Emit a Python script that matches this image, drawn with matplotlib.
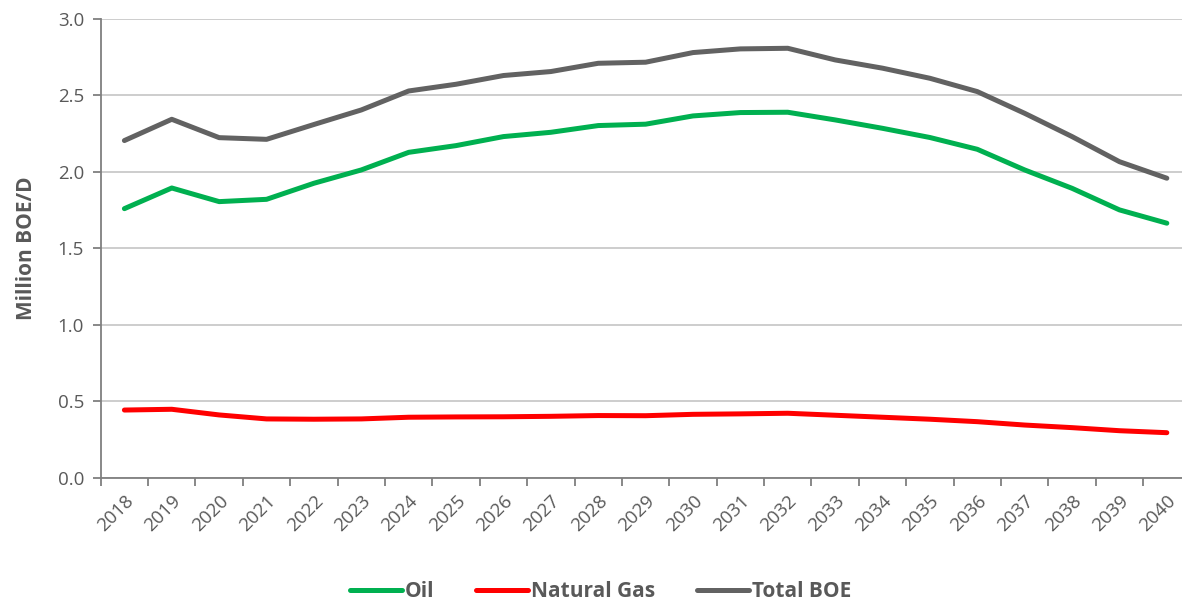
import numpy as np
import matplotlib.pyplot as plt

plt.rcParams['font.family'] = ['Open Sans', 'DejaVu Sans']

years = [str(y) for y in range(2018, 2041)]
oil = [1.76, 1.895, 1.806, 1.821, 1.926, 2.013, 2.128, 2.172, 2.231, 2.259, 2.303, 2.312,
       2.366, 2.388, 2.39, 2.34, 2.285, 2.225, 2.148, 2.013, 1.893, 1.752, 1.665]
gas = [0.444, 0.449, 0.412, 0.386, 0.384, 0.386, 0.397, 0.399, 0.400, 0.403, 0.408, 0.407,
       0.416, 0.419, 0.423, 0.410, 0.397, 0.384, 0.368, 0.346, 0.329, 0.309, 0.296]
total = [2.205, 2.344, 2.224, 2.213, 2.31, 2.405, 2.529, 2.573, 2.63, 2.656, 2.71, 2.717,
         2.78, 2.804, 2.808, 2.732, 2.678, 2.612, 2.525, 2.383, 2.231, 2.067, 1.959]

txt = '#595959'
fig = plt.figure(figsize=(11.82, 6.02), dpi=100)
ax = fig.add_axes([0.0852, 0.206, 0.922, 0.7626])

x = np.arange(len(years))
ax.plot(x, oil, color='#00B050', lw=3.6, solid_capstyle='round', label='Oil', zorder=3)
ax.plot(x, gas, color='#FF0000', lw=3.6, solid_capstyle='round', label='Natural Gas', zorder=3)
ax.plot(x, total, color='#626262', lw=3.6, solid_capstyle='round', label='Total BOE', zorder=3)

ax.set_xlim(-0.5, len(years) - 0.5)
ax.set_ylim(0, 3.0)
ax.set_yticks(np.arange(0, 3.01, 0.5))
ax.set_yticklabels(['%.1f' % v for v in np.arange(0, 3.01, 0.5)])
ax.yaxis.grid(True, color='#C9C9C9', lw=1.3)
ax.set_axisbelow(True)

# ticks between categories, labels at centers
ax.set_xticks(np.arange(-0.5, len(years), 1.0))
ax.set_xticklabels([])
ax.set_xticks(x, minor=True)
ax.set_xticklabels(years, minor=True, rotation=45, ha='right', rotation_mode='anchor')
ax.tick_params(axis='x', which='minor', length=0, pad=10, labelsize=13.5, labelcolor=txt)
ax.tick_params(axis='x', which='major', length=6, width=1.3, color='#7F7F7F')
ax.tick_params(axis='y', length=6, width=1.3, color='#7F7F7F', labelsize=13.5,
               labelcolor=txt, pad=6)

for s in ['top', 'right']:
    ax.spines[s].set_visible(False)
for s in ['left', 'bottom']:
    ax.spines[s].set_color('#7F7F7F')
    ax.spines[s].set_linewidth(1.3)

ax.set_ylabel('Million BOE/D', fontsize=15, fontweight='bold', color=txt, labelpad=15)

leg = fig.legend(loc='center', bbox_to_anchor=(0.508, 0.017), ncol=3, frameon=False,
                 handlelength=2.5, handletextpad=0.15, columnspacing=2.0,
                 prop={'weight': 'bold', 'size': 15})
for t in leg.get_texts():
    t.set_color(txt)

fig.savefig('out.png', dpi=100)
